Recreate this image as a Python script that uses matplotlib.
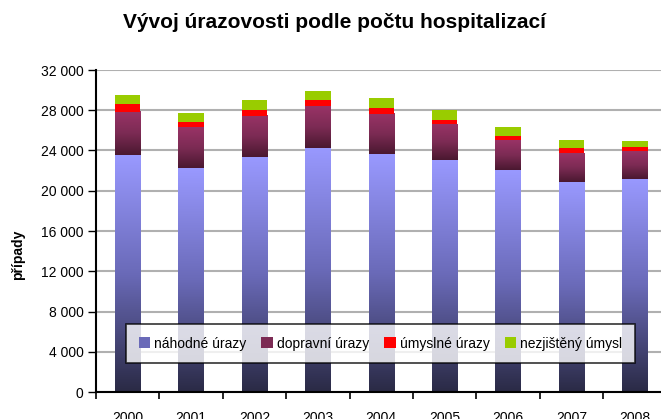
import numpy as np
import matplotlib
matplotlib.use('Agg')
import matplotlib.pyplot as plt
from matplotlib.colors import LinearSegmentedColormap
from matplotlib.patches import Patch

roky = ['2000', '2001', '2002', '2003', '2004', '2005', '2006', '2007', '2008']
nahodne = [23550, 22260, 23350, 24250, 23650, 23060, 22060, 20870, 21170]
dopravni = [4280, 4050, 4080, 4170, 3980, 3570, 2950, 2850, 2780]
umyslne = [790, 520, 600, 600, 590, 400, 430, 530, 400]
nezjisteny = [900, 900, 990, 890, 1000, 1020, 900, 790, 590]

nazvy = ['náhodné úrazy', 'dopravní úrazy', 'úmyslné úrazy', 'nezjištěný úmysl']

plt.rcParams['font.family'] = ['Liberation Sans', 'DejaVu Sans']

fig = plt.figure(figsize=(6.61, 4.19), dpi=100)
ax = fig.add_axes([96 / 661, 1 - 392 / 419, 570.6 / 661, 322 / 419])

x = np.arange(len(roky))
w = 0.4
cm_blue = LinearSegmentedColormap.from_list('b', ['#2a2a45', '#6a6ab8', '#9999ff'])
cm_red = LinearSegmentedColormap.from_list('m', ['#4a1830', '#7c2b54', '#993366'])

dno = np.zeros(len(roky))
b1 = ax.bar(x, nahodne, w, bottom=dno, color='none', zorder=3)
dno += nahodne
b2 = ax.bar(x, dopravni, w, bottom=dno, color='none', zorder=3)
dno += dopravni
ax.bar(x, umyslne, w, bottom=dno, color='#ff0000', zorder=3)
dno += umyslne
ax.bar(x, nezjisteny, w, bottom=dno, color='#99cc00', zorder=3)

# gradient fill of the two lower series
grad = np.linspace(0, 1, 256).reshape(-1, 1)
for bars, cm in [(b1, cm_blue), (b2, cm_red)]:
    for p in bars:
        x0, y0 = p.get_x(), p.get_y()
        ax.imshow(grad, cmap=cm, origin='lower', aspect='auto', zorder=2,
                  extent=[x0, x0 + p.get_width(), y0, y0 + p.get_height()])

ax.set_xlim(-0.5, len(roky) - 0.5)
ax.set_ylim(0, 32000)
ax.set_yticks(np.arange(0, 32001, 4000))
ax.set_yticklabels(['{:,}'.format(v).replace(',', ' ') for v in range(0, 32001, 4000)])
ax.yaxis.grid(True, color='#b0b0b0', linewidth=1.5, zorder=0)
ax.set_axisbelow(True)

ax.set_xticks(np.arange(-0.5, len(roky), 1))
ax.set_xticklabels([])
ax.set_xticks(x, minor=True)
ax.set_xticklabels(roky, minor=True)
ax.tick_params(axis='x', which='major', direction='out', length=5, width=1.2)
ax.tick_params(axis='x', which='minor', length=0, pad=14, labelsize=10)
ax.tick_params(axis='y', direction='out', length=6, width=1, pad=3, labelsize=10)

for s in ['top', 'right']:
    ax.spines[s].set_visible(False)
for s in ['left', 'bottom']:
    ax.spines[s].set_linewidth(1.5)

fig.text(335 / 661, 1 - 22 / 419, 'Vývoj úrazovosti podle počtu hospitalizací',
         ha='center', va='center', fontsize=15, fontweight='bold')
fig.text(18 / 661, 1 - 255 / 419, 'případy', rotation=90, ha='center', va='center',
         fontsize=10, fontweight='bold')

handles = [Patch(facecolor='#6a6ab8'), Patch(facecolor='#7c2b54'),
           Patch(facecolor='#ff0000'), Patch(facecolor='#99cc00')]
leg = fig.legend(handles, nazvy, ncol=4, mode='expand',
                 bbox_to_anchor=(126 / 661, 1 - 363 / 419, 509 / 661, 39 / 419),
                 loc='center', fontsize=10, frameon=True, fancybox=False,
                 handlelength=0.8, handleheight=0.8, handletextpad=0.3,
                 borderaxespad=0, borderpad=0.9, columnspacing=1.0)
leg.get_frame().set_edgecolor('black')
leg.get_frame().set_linewidth(1.2)
leg.set_zorder(5)

fig.savefig('out.png', dpi=100)
